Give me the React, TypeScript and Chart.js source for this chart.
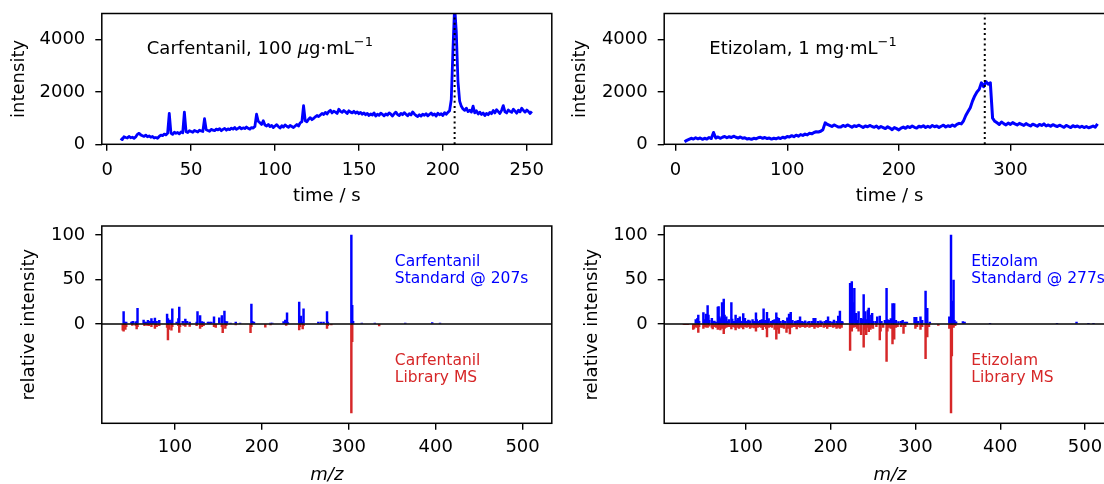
import React, { useEffect, useRef } from 'react';
import { Chart, registerables } from 'chart.js';

Chart.register(...registerables);

const FONT = '"DejaVu Sans", sans-serif';
const BLUE = '#0000ff';
const RED = '#d62728';

// ---------------- chromatogram data ----------------
const carfStart = 8; // s
const carfStep = 1; // s
const carfIntensity = [
  230, 180, 290, 260, 240, 300, 250, 270, 230, 280,
  380, 420, 360, 330, 300, 350, 290, 320, 270, 300,
  240, 260, 230, 300, 350, 330, 390, 360, 420, 1180,
  430, 380, 460, 420, 450, 400, 470, 440, 1230, 480,
  450, 520, 490, 460, 530, 500, 470, 540, 510, 490,
  980, 560, 530, 500, 570, 540, 520, 580, 550, 600,
  520, 570, 610, 540, 590, 560, 620, 580, 640, 570,
  610, 650, 590, 630, 600, 660, 610, 580, 640, 620,
  680, 1150, 880, 820, 760, 900, 740, 700, 760, 680,
  720, 640, 700, 750, 680, 620, 710, 660, 740, 690,
  650, 720, 680, 640, 700, 760, 700, 820, 860, 1480,
  900, 860, 960, 1020, 940, 990, 1050, 1100, 1060, 1120,
  1180, 1140, 1220, 1160, 1250, 1300, 1200, 1270, 1230, 1180,
  1340, 1260, 1220, 1290, 1240, 1180, 1280, 1230, 1200, 1260,
  1190, 1240, 1170, 1220, 1150, 1200, 1130, 1180, 1100, 1160,
  1120, 1200, 1080, 1150, 1110, 1190, 1140, 1090, 1160, 1120,
  1200, 1150, 1080, 1170, 1230, 1140, 1100, 1180, 1130, 1210,
  1150, 1090, 1170, 1120, 1240, 1160, 1100, 1060, 1130, 1080,
  1150, 1110, 1170, 1090, 1140, 1200, 1120, 1160, 1080, 1190,
  1130, 1170, 1100, 1210, 1150, 1220, 1280, 1700, 3600, 5300,
  4300, 2400, 1650, 1450, 1350, 1300, 1380, 1250, 1300, 1230,
  1460, 1200, 1280, 1160, 1230, 1140, 1200, 1100, 1180, 1130,
  1220, 1170, 1290, 1200, 1320, 1250, 1180, 1300, 1480, 1240,
  1200, 1310, 1260, 1220, 1340, 1270, 1190, 1300, 1240, 1380,
  1290, 1230, 1310, 1250, 1180, 1260,
];

const etizStart = 8; // s
const etizStep = 2; // s
const etizIntensity = [
  100, 150, 190, 230, 200, 250, 210, 240, 190, 230,
  200, 260, 220, 450, 240, 280, 230, 270, 300, 250,
  290, 260, 310, 270, 240, 280, 230, 250, 200, 220,
  190, 230, 210, 250, 270, 230, 260, 220, 240, 200,
  230, 210, 250, 220, 270, 240, 300, 280, 330, 290,
  350, 310, 370, 340, 390, 360, 420, 400, 450, 480,
  470, 500, 560, 820, 760, 720, 680, 740, 700, 660,
  660, 720, 680, 740, 700, 650, 710, 680, 730, 690,
  640, 700, 670, 720, 680, 650, 700, 620, 680, 640,
  600, 670, 620, 560, 640, 600, 550, 620, 660, 610,
  680, 640, 700, 650, 620, 690, 660, 710, 640, 690,
  650, 720, 670, 700, 640, 690, 730, 660, 710, 680,
  740, 690, 760, 800, 780, 900, 1100, 1250, 1400, 1650,
  1850, 2000, 2100, 2350, 2200, 2400, 2300, 2350, 1000, 880,
  820, 760, 850, 790, 740, 810, 760, 830, 780, 740,
  800, 760, 720, 790, 740, 700, 770, 730, 690, 760,
  720, 780, 700, 740, 690, 750, 710, 680, 730, 690,
  650, 720, 680, 640, 710, 670, 700, 650, 690, 640,
  680, 630, 660, 700, 650, 780,
];

const carfMarkerTime = 207;
const etizMarkerTime = 277;

const chromXTicksLeft = [0, 50, 100, 150, 200, 250];
const chromXTicksRight = [0, 100, 200, 300];
const chromYTicks = [0, 2000, 4000];
const specXTicks = [100, 200, 300, 400, 500];
const specYTicks = [0, 50, 100];

// ---------------- mass spectra data ----------------
const carfStdMz = [
  41, 42, 44, 50, 51, 52, 55, 56, 57, 64,
  65, 67, 69, 71, 73, 75, 77, 79, 82, 91,
  92, 94, 96, 97, 102, 104, 105, 109, 112, 114,
  117, 125, 126, 129, 131, 133, 138, 140, 142, 145,
  151, 154, 157, 158, 160, 164, 170, 175, 188, 189,
  191, 210, 212, 225, 227, 229, 230, 243, 245, 246,
  248, 265, 268, 271, 275, 276, 303, 304, 305, 315,
  330, 365, 396, 405,
];
const carfStdInt = [
  14, 2, 2, 2, 2.5, 3, 2, 3, 17.5, 4.5,
  2, 2, 4, 3, 6, 3, 6.7, 3, 4, 11,
  6, 4.5, 2, 17, 2, 6, 19, 3, 5.6, 3,
  2, 2, 14, 9.4, 2.6, 2, 2, 2, 2, 8,
  7, 9.4, 14.6, 3, 2.6, 1, 2, 1, 22.5, 3,
  2, 1, 1, 2.6, 4.5, 12.4, 1.5, 24.7, 9, 2,
  17, 2, 2, 2, 14, 2, 100, 21, 3, 1,
  1, 1, 1.5, 1,
];
const carfLibMz = [
  40, 41, 42, 43, 44, 51, 55, 56, 57, 65,
  68, 70, 73, 77, 78, 79, 82, 91, 92, 93,
  96, 97, 104, 105, 106, 110, 112, 117, 125, 129,
  131, 133, 145, 147, 154, 155, 158, 159, 170, 187,
  188, 204, 210, 228, 243, 244, 247, 248, 275, 276,
  280, 303, 304, 335,
];
const carfLibInt = [
  -7, -8, -5, -6, -3, -1.5, -2, -5.6, -3, -2,
  -1.5, -2, -3, -5, -2, -3, -2, -4, -18, -6,
  -7, -3, -2, -9.5, -3, -1.5, -2.6, -2.6, -2, -5,
  -3, -2, -3, -4, -3, -9.7, -5, -2, -1, -9.7,
  -3, -3.7, -1, -1.5, -6.7, -3, -5.6, -2, -4.9, -2,
  -1, -100, -19.8, -2.2,
];

const etizStdMz = [
  41, 43, 44, 45, 50, 51, 53, 55, 56, 57,
  60, 61, 63, 65, 67, 68, 69, 70, 72, 74,
  75, 77, 78, 80, 83, 84, 86, 88, 89, 91,
  93, 95, 97, 99, 101, 103, 105, 108, 110, 112,
  113, 115, 117, 119, 121, 123, 125, 127, 130, 132,
  134, 136, 137, 139, 141, 144, 146, 149, 151, 153,
  155, 158, 160, 162, 164, 166, 168, 170, 173, 175,
  178, 180, 182, 185, 188, 190, 193, 195, 197, 199,
  202, 204, 207, 209, 211, 213, 214, 223, 225, 226,
  228, 230, 231, 233, 236, 237, 239, 241, 242, 244,
  245, 246, 248, 249, 250, 253, 255, 258, 260, 264,
  266, 267, 269, 271, 273, 274, 275, 277, 280, 283,
  285, 288, 290, 299, 301, 303, 306, 308, 312, 314,
  317, 340, 342, 343, 345, 346, 348, 356, 358, 388,
  467, 490, 504, 510,
];
const etizStdInt = [
  5, 6.4, 10, 3, 12.7, 5, 11, 20.6, 10, 4,
  6.4, 3, 3.4, 2, 19, 19.5, 8, 6, 24, 28,
  10, 8, 3, 5, 24, 5.6, 3, 10, 4, 6.4,
  8, 3, 11.6, 6.4, 3, 4.5, 3.5, 5, 3, 12.4,
  5, 3, 4, 5, 17, 4, 13, 6, 3, 4,
  5, 12.4, 7.5, 6.4, 3, 4, 3, 7, 11, 13,
  4, 3, 3.5, 4, 8, 3, 2.5, 3.5, 2.5, 3,
  3, 6.4, 6.4, 3, 3.5, 2.5, 3, 4, 7.9, 3,
  2.5, 4.5, 3, 9, 14.6, 3, 2.5, 45.7, 47.6, 24,
  40, 12, 4, 13.9, 6.4, 5.6, 33, 14, 5, 15.7,
  18, 4, 10, 12, 3, 3, 8, 9, 3, 4,
  40, 5, 4, 6, 23, 15, 23, 4, 2.6, 3,
  4, 2, 2, 7.5, 7.5, 3, 8, 4, 37, 17.6,
  2, 8, 100, 25.8, 49.4, 4, 2.5, 2.6, 2, 0.7,
  0.7, 2.2, 0.7, 0.7,
];
const etizLibMz = [
  27, 28, 29, 31, 32, 38, 39, 40, 42, 44,
  45, 50, 51, 53, 55, 57, 60, 61, 63, 65,
  67, 68, 70, 72, 74, 75, 77, 79, 81, 83,
  85, 87, 88, 90, 92, 93, 95, 97, 99, 101,
  103, 105, 107, 110, 112, 114, 116, 118, 120, 122,
  124, 125, 127, 129, 131, 134, 136, 137, 139, 141,
  143, 145, 148, 150, 152, 154, 156, 158, 160, 162,
  164, 166, 168, 170, 172, 175, 177, 179, 181, 183,
  185, 187, 189, 192, 194, 196, 198, 200, 203, 205,
  207, 209, 211, 213, 223, 225, 227, 229, 231, 233,
  236, 239, 240, 242, 244, 245, 247, 249, 250, 254,
  258, 259, 262, 266, 267, 269, 271, 273, 275, 277,
  279, 283, 286, 288, 300, 302, 306, 308, 312, 314,
  316, 327, 340, 342, 343, 345, 347,
];
const etizLibInt = [
  -0.8, -0.8, -0.6, -0.8, -0.6, -6, -5, -3, -4, -9.4,
  -3, -5, -3, -3.5, -4, -2.5, -4, -5.6, -3, -4,
  -6, -4, -6.7, -5, -11, -5, -4, -3, -3, -5.6,
  -3, -4, -6.7, -4, -5, -3, -4, -5.6, -3, -4,
  -3, -5, -4, -4.5, -8, -4, -3, -4, -6.4, -3,
  -5, -14.6, -4, -3, -4, -6, -17, -6, -10.5, -4,
  -4, -5, -9.4, -5, -11.2, -4, -3, -3, -5.6, -3,
  -4, -3, -3, -4, -3, -4, -3, -3, -5, -3,
  -4, -3, -3, -4, -3, -5, -3, -3, -4, -3,
  -5, -4, -5, -4, -29.6, -8, -4, -3, -5, -8,
  -12, -26, -6, -12, -4, -8.6, -6, -4, -5, -3,
  -18, -8, -4, -42, -8, -4, -5, -22.5, -17, -4,
  -3, -3, -10.5, -3, -5, -3, -6, -3, -39, -14.6,
  -3, -1.5, -5, -100, -36, -4, -2,
];

// ---------------- layout (page pixels) ----------------
type Box = { x: number; y: number; w: number; h: number };
type Plot = { left: number; top: number; right: number; bottom: number };

const TICK_LEN = 6.5;

interface FrameOpts {
  canvas: Box;
  plot: Plot;
  xMin: number; xMax: number; yMin: number; yMax: number;
  xTicks: number[]; yTicks: number[];
  xTitle: string; xItalic?: boolean; xTitleY: number;
  yTitle: string; yTitleX: number;
  xPad: number; yPad: number;
}

function frameOptions(o: FrameOpts): any {
  const c = o.canvas;
  const p = o.plot;
  const yW = p.left - c.x;
  const xH = c.y + c.h - p.bottom;
  const tickFont = { family: FONT, size: 18 };
  const grid = {
    display: true, drawOnChartArea: false, drawTicks: true, tickLength: TICK_LEN,
    color: '#000', lineWidth: 1.4, offset: false,
  };
  const zeroPad = (s: any) => { s.paddingLeft = 0; s.paddingRight = 0; s.paddingTop = 0; s.paddingBottom = 0; };
  return {
    animation: false,
    responsive: false,
    maintainAspectRatio: false,
    devicePixelRatio: 1,
    events: [],
    layout: {
      autoPadding: false,
      padding: { left: 0, top: p.top - c.y, right: c.x + c.w - p.right, bottom: 0 },
    },
    plugins: { legend: { display: false }, tooltip: { enabled: false } },
    scales: {
      x: {
        type: 'linear', position: 'bottom', min: o.xMin, max: o.xMax, offset: false, bounds: 'data',
        afterBuildTicks: (s: any) => { s.ticks = o.xTicks.map((v) => ({ value: v })); },
        afterFit: (s: any) => { s.height = xH; zeroPad(s); },
        grid,
        border: { display: false },
        ticks: {
          color: '#000', font: tickFont, padding: o.xPad, maxRotation: 0, minRotation: 0,
          autoSkip: false, callback: (v: any) => String(v),
        },
        title: {
          display: true, text: o.xTitle, color: '#000',
          font: { family: FONT, size: 18, style: o.xItalic ? 'italic' : 'normal' },
          padding: { top: 0, bottom: c.y + c.h - o.xTitleY - 10.8 },
        },
      },
      y: {
        type: 'linear', position: 'left', min: o.yMin, max: o.yMax, bounds: 'data',
        afterBuildTicks: (s: any) => { s.ticks = o.yTicks.map((v) => ({ value: v })); },
        afterFit: (s: any) => { s.width = yW; zeroPad(s); },
        grid,
        border: { display: false },
        ticks: { color: '#000', font: tickFont, padding: o.yPad, autoSkip: false, callback: (v: any) => String(v) },
        title: {
          display: true, text: o.yTitle, color: '#000', font: { family: FONT, size: 18 },
          padding: { top: o.yTitleX - c.x - 10.8, bottom: 0 },
        },
      },
    },
  };
}

const boxPlugin = {
  id: 'axesBox',
  afterDraw(chart: any) {
    const { ctx, chartArea: a } = chart;
    ctx.save();
    ctx.strokeStyle = '#000';
    ctx.lineWidth = 1.5;
    ctx.strokeRect(a.left, a.top, a.right - a.left, a.bottom - a.top);
    ctx.restore();
  },
};

const zeroLinePlugin = {
  id: 'zeroLine',
  afterDatasetsDraw(chart: any) {
    const { ctx, chartArea: a } = chart;
    const y = chart.scales.y.getPixelForValue(0);
    ctx.save();
    ctx.strokeStyle = '#000';
    ctx.lineWidth = 1.3;
    ctx.beginPath();
    ctx.moveTo(a.left, y);
    ctx.lineTo(a.right, y);
    ctx.stroke();
    ctx.restore();
  },
};

type Piece = { text: string; size: number; italic?: boolean; rise?: number };

function richTextPlugin(pieces: Piece[], fracX: number, baselineFromTop: number) {
  return {
    id: 'richText',
    afterDraw(chart: any) {
      const { ctx, chartArea: a } = chart;
      ctx.save();
      ctx.fillStyle = '#000';
      ctx.textBaseline = 'alphabetic';
      ctx.textAlign = 'left';
      let x = a.left + fracX * (a.right - a.left);
      const y = a.top + baselineFromTop;
      for (const p of pieces) {
        ctx.font = `${p.italic ? 'italic ' : ''}${p.size}px ${FONT}`;
        ctx.fillText(p.text, x, y - (p.rise || 0));
        x += ctx.measureText(p.text).width;
      }
      ctx.restore();
    },
  };
}

type SpecLabel = { lines: string[]; yValues: number[]; color: string };

function specLabelPlugin(xValue: number, labels: SpecLabel[]) {
  return {
    id: 'specLabels',
    afterDraw(chart: any) {
      const { ctx } = chart;
      const sx = chart.scales.x;
      const sy = chart.scales.y;
      ctx.save();
      ctx.textAlign = 'left';
      ctx.textBaseline = 'middle';
      ctx.font = `15.5px ${FONT}`;
      const x = sx.getPixelForValue(xValue);
      for (const l of labels) {
        ctx.fillStyle = l.color;
        l.lines.forEach((t, i) => ctx.fillText(t, x, sy.getPixelForValue(l.yValues[i])));
      }
      ctx.restore();
    },
  };
}

function chromConfig(
  frame: FrameOpts, start: number, step: number, values: number[], marker: number,
  label: Piece[], lineWidth: number,
): any {
  const pts = values.map((v, i) => ({ x: start + i * step, y: v }));
  return {
    type: 'line',
    data: {
      datasets: [
        {
          data: [{ x: marker, y: frame.yMin }, { x: marker, y: frame.yMax }],
          borderColor: '#000', borderWidth: 2, borderDash: [2, 3.2], pointRadius: 0, borderCapStyle: 'butt',
        },
        {
          data: pts, borderColor: BLUE, borderWidth: lineWidth, pointRadius: 0, tension: 0,
          borderJoinStyle: 'round',
        },
      ],
    },
    options: frameOptions(frame),
    plugins: [boxPlugin, richTextPlugin(label, 0.1, 40.5)],
  };
}

function specConfig(
  frame: FrameOpts, stdMz: number[], stdInt: number[], libMz: number[], libInt: number[],
  labelX: number, name: string, time: number,
): any {
  const opts = frameOptions(frame);
  return {
    type: 'bar',
    data: {
      datasets: [
        {
          data: stdMz.map((m, i) => ({ x: m, y: stdInt[i] })),
          backgroundColor: BLUE, barThickness: 1.8, grouped: false, borderWidth: 0,
        },
        {
          data: libMz.map((m, i) => ({ x: m, y: libInt[i] })),
          backgroundColor: RED, barThickness: 1.8, grouped: false, borderWidth: 0,
        },
      ],
    },
    options: opts,
    plugins: [
      zeroLinePlugin,
      boxPlugin,
      specLabelPlugin(labelX, [
        { lines: [name, `Standard @ ${time}s`], yValues: [70.2, 50.4], color: BLUE },
        { lines: [name, 'Library MS'], yValues: [-41.2, -61], color: RED },
      ]),
    ],
  };
}

// ---------------- panels ----------------
const TL_BOX: Box = { x: 0, y: 0, w: 560, h: 215 };
const TR_BOX: Box = { x: 560, y: 0, w: 600, h: 215 };
const BL_BOX: Box = { x: 0, y: 215, w: 560, h: 280 };
const BR_BOX: Box = { x: 560, y: 215, w: 600, h: 280 };

const TL_FRAME: FrameOpts = {
  canvas: TL_BOX, plot: { left: 101.8, top: 13.5, right: 551.8, bottom: 144.3 },
  xMin: -3.2, xMax: 264.9, yMin: 0, yMax: 5000,
  xTicks: chromXTicksLeft, yTicks: chromYTicks,
  xTitle: 'time / s', xTitleY: 196.7, yTitle: 'intensity', yTitleX: 19,
  xPad: 8.4, yPad: 10,
};
const TR_FRAME: FrameOpts = {
  canvas: TR_BOX, plot: { left: 664.2, top: 13.5, right: 1114.8, bottom: 144.3 },
  xMin: -10.2, xMax: 393.5, yMin: 0, yMax: 5000,
  xTicks: chromXTicksRight, yTicks: chromYTicks,
  xTitle: 'time / s', xTitleY: 196.7, yTitle: 'intensity', yTitleX: 580,
  xPad: 8.4, yPad: 10,
};
const BL_FRAME: FrameOpts = {
  canvas: BL_BOX, plot: { left: 101.8, top: 226, right: 551.8, bottom: 423.3 },
  xMin: 15.9, xMax: 533.6, yMin: -111.6, yMax: 110.1,
  xTicks: specXTicks, yTicks: specYTicks,
  xTitle: 'm/z', xItalic: true, xTitleY: 475, yTitle: 'relative intensity', yTitleX: 29.5,
  xPad: 6.7, yPad: 10,
};
const BR_FRAME: FrameOpts = {
  canvas: BR_BOX, plot: { left: 664.2, top: 226, right: 1115.8, bottom: 423.3 },
  xMin: 3.8, xMax: 536.3, yMin: -111.6, yMax: 110.1,
  xTicks: specXTicks, yTicks: specYTicks,
  xTitle: 'm/z', xItalic: true, xTitleY: 475, yTitle: 'relative intensity', yTitleX: 592,
  xPad: 6.7, yPad: 10,
};

const carfLabel: Piece[] = [
  { text: 'Carfentanil, 100 ', size: 18 },
  { text: 'μ', size: 18, italic: true },
  { text: 'g·mL', size: 18 },
  { text: '−1', size: 13, rise: 8 },
];
const etizLabel: Piece[] = [
  { text: 'Etizolam, 1 mg·mL', size: 18 },
  { text: '−1', size: 13, rise: 8 },
];

function ChartCanvas({ box, make }: { box: Box; make: () => any }) {
  const ref = useRef<HTMLCanvasElement>(null);
  useEffect(() => {
    const chart = new Chart(ref.current as HTMLCanvasElement, make());
    return () => chart.destroy();
  }, []);
  return (
    <canvas
      ref={ref}
      width={box.w}
      height={box.h}
      style={{ position: 'absolute', left: box.x, top: box.y, width: `${box.w}px`, height: `${box.h}px` }}
    />
  );
}

export default function App() {
  return (
    <div
      style={{
        position: 'fixed', left: 0, top: 0, width: 1104, height: 484,
        overflow: 'hidden', background: '#fff',
      }}
    >
      <ChartCanvas box={TL_BOX} make={() => chromConfig(TL_FRAME, carfStart, carfStep, carfIntensity, carfMarkerTime, carfLabel, 2.8)} />
      <ChartCanvas box={TR_BOX} make={() => chromConfig(TR_FRAME, etizStart, etizStep, etizIntensity, etizMarkerTime, etizLabel, 3)} />
      <ChartCanvas box={BL_BOX} make={() => specConfig(BL_FRAME, carfStdMz, carfStdInt, carfLibMz, carfLibInt, 353, 'Carfentanil', 207)} />
      <ChartCanvas box={BR_BOX} make={() => specConfig(BR_FRAME, etizStdMz, etizStdInt, etizLibMz, etizLibInt, 366, 'Etizolam', 277)} />
    </div>
  );
}
